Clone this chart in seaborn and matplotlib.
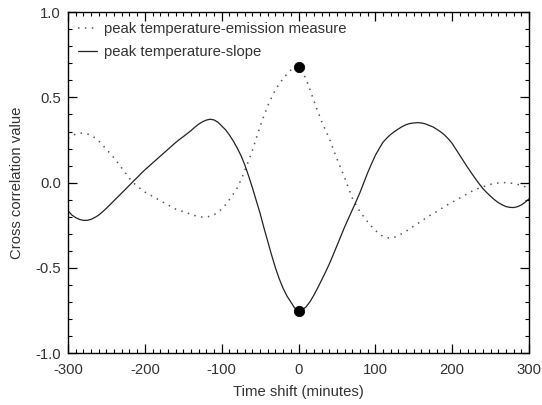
import numpy as np
import pandas as pd
import matplotlib
matplotlib.use("Agg")
import matplotlib.pyplot as plt
import seaborn as sns
from matplotlib.ticker import MultipleLocator, FormatStrFormatter

# ---- data ----
time_shift = list(range(-300, 301, 5))

temp_emission = [
    0.26, 0.275, 0.285, 0.29, 0.29, 0.286, 0.278, 0.263, 0.245, 0.22,
    0.195, 0.17, 0.145, 0.115, 0.085, 0.055, 0.025, 0.0, -0.02, -0.038,
    -0.055, -0.068, -0.08, -0.093, -0.105, -0.118, -0.13, -0.143, -0.155, -0.163,
    -0.17, -0.178, -0.185, -0.193, -0.199, -0.202, -0.201, -0.197, -0.188, -0.174,
    -0.155, -0.13, -0.1, -0.068, -0.033, 0.015, 0.07, 0.128, 0.19, 0.26,
    0.33, 0.392, 0.45, 0.5, 0.545, 0.58, 0.61, 0.638, 0.66, 0.675,
    0.68,
    0.655, 0.605, 0.545, 0.48, 0.42, 0.36, 0.31, 0.26, 0.2, 0.14,
    0.085, 0.03, -0.03, -0.09, -0.132, -0.17, -0.2, -0.23, -0.256, -0.28,
    -0.3, -0.315, -0.323, -0.325, -0.32, -0.31, -0.298, -0.285, -0.27, -0.255,
    -0.24, -0.225, -0.21, -0.195, -0.182, -0.17, -0.155, -0.14, -0.127, -0.115,
    -0.102, -0.09, -0.077, -0.065, -0.052, -0.04, -0.032, -0.025, -0.017, -0.01,
    -0.005, -0.002, 0.0, 0.0, -0.002, -0.005, -0.01, -0.015, -0.024, -0.035,
]

temp_slope = [
    -0.165, -0.19, -0.205, -0.216, -0.221, -0.221, -0.215, -0.204, -0.19, -0.171,
    -0.15, -0.128, -0.105, -0.083, -0.06, -0.038, -0.015, 0.008, 0.03, 0.053,
    0.075, 0.095, 0.115, 0.135, 0.155, 0.175, 0.195, 0.215, 0.235, 0.253,
    0.27, 0.287, 0.305, 0.325, 0.343, 0.357, 0.367, 0.372, 0.368, 0.355,
    0.333, 0.31, 0.28, 0.245, 0.205, 0.16, 0.105, 0.04, -0.03, -0.105,
    -0.18, -0.265, -0.345, -0.425, -0.50, -0.565, -0.62, -0.665, -0.70, -0.735,
    -0.75,
    -0.745, -0.728, -0.698, -0.66, -0.617, -0.572, -0.526, -0.478, -0.425, -0.37,
    -0.315, -0.26, -0.21, -0.16, -0.11, -0.058, 0.0, 0.058, 0.11, 0.16,
    0.2, 0.237, 0.262, 0.283, 0.3, 0.315, 0.329, 0.34, 0.347, 0.35,
    0.352, 0.35, 0.345, 0.336, 0.327, 0.313, 0.298, 0.28, 0.257, 0.23,
    0.195, 0.16, 0.125, 0.09, 0.057, 0.025, -0.006, -0.035, -0.058, -0.08,
    -0.1, -0.117, -0.13, -0.14, -0.145, -0.146, -0.141, -0.131, -0.115, -0.095,
]

labels = ["peak temperature-emission measure", "peak temperature-slope"]
x_ticks = [-300, -200, -100, 0, 100, 200, 300]
y_ticks = [-1.0, -0.5, 0.0, 0.5, 1.0]

df = pd.DataFrame({
    "t": time_shift * 2,
    "v": temp_emission + temp_slope,
    "series": [labels[0]] * len(time_shift) + [labels[1]] * len(time_shift),
})
i0 = time_shift.index(0)
peaks = pd.DataFrame({"t": [0, 0], "v": [temp_emission[i0], temp_slope[i0]]})

sns.set_style("ticks")
plt.rcParams["font.family"] = ["Liberation Sans", "DejaVu Sans"]
plt.rcParams["axes.unicode_minus"] = False
text_color = "#333333"
plt.rcParams["text.color"] = text_color
plt.rcParams["axes.labelcolor"] = text_color
plt.rcParams["xtick.labelcolor"] = text_color
plt.rcParams["ytick.labelcolor"] = text_color

FS = 10.7
fig = plt.figure(figsize=(5.42, 4.05), dpi=100)
ax = fig.add_axes([0.1255, 0.128, 0.8505, 0.842])

sns.lineplot(data=df[df.series == labels[0]], x="t", y="v", ax=ax,
             color="#555555", linewidth=1.1, linestyle=(0, (1, 3.5)),
             label=labels[0])
sns.lineplot(data=df[df.series == labels[1]], x="t", y="v", ax=ax,
             color="#222222", linewidth=0.9, label=labels[1])
sns.scatterplot(data=peaks, x="t", y="v", ax=ax, color="black", s=55,
                edgecolor="black", zorder=5, legend=False)

ax.set_xlim(-300, 300)
ax.set_ylim(-1.0, 1.0)
ax.set_xticks(x_ticks)
ax.set_yticks(y_ticks)
ax.xaxis.set_minor_locator(MultipleLocator(10))
ax.yaxis.set_minor_locator(MultipleLocator(0.1))
ax.yaxis.set_major_formatter(FormatStrFormatter("%.1f"))
ax.xaxis.set_major_formatter(FormatStrFormatter("%d"))
ax.tick_params(which="both", direction="in", top=True, right=True,
               color="black", labelsize=FS)
ax.tick_params(which="major", length=6.5, width=0.9)
ax.tick_params(axis="x", which="major", pad=7)
ax.tick_params(axis="y", which="major", pad=5)
ax.tick_params(which="minor", length=3, width=0.8)
for s in ax.spines.values():
    s.set_linewidth(1.0)
    s.set_color("black")

ax.set_xlabel("Time shift (minutes)", fontsize=FS, labelpad=6)
ax.set_ylabel("Cross correlation value", fontsize=FS, labelpad=8)

leg = ax.legend(loc="upper left", frameon=False, fontsize=FS,
                handlelength=1.3, handletextpad=0.45, labelspacing=0.62,
                borderaxespad=0.25, bbox_to_anchor=(0.0, 1.0))

fig.savefig("out.png", dpi=100)
